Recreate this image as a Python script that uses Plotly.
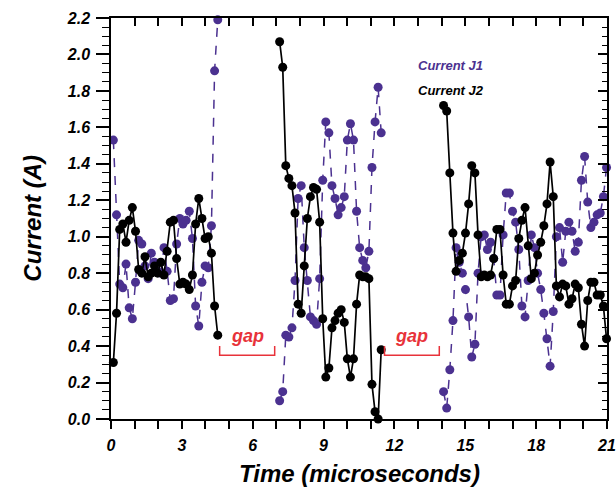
import numpy as np
import plotly.graph_objects as go

# ---------------- data ----------------
# segment 1 (0.10 .. 4.52 us), segment 2 (7.14 .. 11.44 us), segment 3 (14.08 .. 20.98 us)
seg_bounds = [(0.10, 4.52), (7.14, 11.44), (14.08, 20.98)]

j1_seg1 = [1.53, 1.12, 0.74, 0.72, 0.85, 0.61, 0.55, 0.75, 0.98, 0.96, 0.84, 0.77,
           0.91, 0.86, 0.81, 0.80, 0.94, 0.81, 0.65, 0.66, 0.96, 1.10, 1.07, 1.09,
           1.14, 0.99, 0.62, 0.51, 0.75, 0.84, 0.83, 1.06, 1.91, 2.19]
j2_seg1 = [0.31, 0.58, 1.04, 1.07, 0.97, 1.09, 1.16, 1.03, 0.82, 0.80, 0.89, 0.78,
           0.80, 0.84, 0.80, 0.86, 0.79, 0.92, 1.08, 1.09, 0.88, 0.74, 0.75, 0.74,
           0.71, 0.79, 1.07, 1.21, 1.10, 0.99, 1.00, 0.91, 0.62, 0.46]

j1_seg2 = [0.10, 0.15, 0.46, 0.45, 0.50, 0.76, 1.21, 1.28, 0.94, 0.76, 0.56, 0.54,
           0.52, 0.77, 1.31, 1.63, 1.57, 1.28, 1.21, 1.12, 1.16, 1.22, 1.53, 1.62,
           1.53, 1.14, 0.94, 0.87, 0.83, 0.92, 1.38, 1.63, 1.82, 1.57]
j2_seg2 = [2.07, 1.93, 1.39, 1.32, 1.28, 1.13, 0.63, 0.58, 0.84, 1.10, 1.22, 1.27,
           1.26, 1.08, 0.55, 0.23, 0.28, 0.50, 0.54, 0.58, 0.60, 0.53, 0.33, 0.23,
           0.33, 0.63, 0.79, 0.78, 0.78, 0.77, 0.19, 0.04, 0.00, 0.38]

j1_seg3 = [0.15, 0.06, 0.27, 0.54, 0.94, 0.86, 0.80, 0.71, 0.56, 0.34, 0.41, 0.80,
           1.00, 1.01, 0.93, 0.97, 0.88, 0.68, 0.68, 1.01, 1.24, 1.24, 1.14, 1.08,
           0.93, 0.62, 0.56, 0.76, 1.01, 0.94, 0.80, 0.71, 0.58, 0.44, 0.29, 0.59,
           1.00, 1.05, 0.86, 1.03, 1.08, 1.03, 0.92, 0.97, 1.31, 1.44, 1.19, 1.05,
           1.08, 1.12, 1.13, 1.22, 1.38]
j2_seg3 = [1.72, 1.69, 1.35, 1.02, 0.81, 0.87, 0.91, 1.02, 1.18, 1.39, 1.35, 1.01,
           0.78, 0.79, 0.78, 0.79, 0.88, 1.04, 1.04, 0.79, 0.63, 0.63, 0.73, 0.76,
           0.99, 1.09, 1.16, 0.95, 0.77, 0.80, 0.90, 0.97, 1.06, 1.18, 1.41, 1.22,
           0.73, 0.67, 0.74, 0.73, 0.63, 0.66, 0.74, 0.72, 0.52, 0.40, 0.65, 0.75,
           0.75, 0.68, 0.68, 0.62, 0.44]

gap_starts = [4.60, 11.58]
gap_ends = [6.93, 13.90]
gap_label = "gap"

x_ticks = [0, 3, 6, 9, 12, 15, 18, 21]
y_ticks = [0.0, 0.2, 0.4, 0.6, 0.8, 1.0, 1.2, 1.4, 1.6, 1.8, 2.0, 2.2]

# ------------- build series with breaks between segments -------------
def build(segs):
    xs, ys = [], []
    for (t0, t1), vals in zip(seg_bounds, segs):
        t = np.linspace(t0, t1, len(vals))
        xs += list(t) + [None]
        ys += list(vals) + [None]
    return xs[:-1], ys[:-1]

x1, y1 = build([j1_seg1, j1_seg2, j1_seg3])
x2, y2 = build([j2_seg1, j2_seg2, j2_seg3])

PURPLE = "#4b3190"
RED = "#e8323a"
FONT = "Liberation Sans"

fig = go.Figure()
fig.add_trace(go.Scatter(x=x1, y=y1, mode="lines+markers", name="Current J1",
                         line=dict(color=PURPLE, width=1.5, dash="dash"),
                         marker=dict(color=PURPLE, size=9), cliponaxis=False,
                         connectgaps=False))
fig.add_trace(go.Scatter(x=x2, y=y2, mode="lines+markers", name="Current J2",
                         line=dict(color="black", width=1.7),
                         marker=dict(color="black", size=9), cliponaxis=False,
                         connectgaps=False))
# dummy trace to activate the mirrored (top/right) axes
fig.add_trace(go.Scatter(x=[None], y=[None], xaxis="x2", yaxis="y2",
                         showlegend=False, hoverinfo="skip"))

# gap brackets
for s, e in zip(gap_starts, gap_ends):
    fig.add_shape(type="path",
                  path=f"M {s},0.40 L {s},0.35 L {e},0.35 L {e},0.40",
                  line=dict(color=RED, width=1.5), xref="x", yref="y")
    fig.add_annotation(x=(s + e) / 2, y=0.455, text=gap_label, showarrow=False,
                       font=dict(family=FONT, size=18, color=RED,
                                 weight="bold", style="italic"))

# legend text
fig.add_annotation(x=12.9, y=1.94, text="Current J1", showarrow=False, xanchor="left",
                   font=dict(family=FONT, size=13, color=PURPLE, weight="bold", style="italic"))
fig.add_annotation(x=12.9, y=1.80, text="Current J2", showarrow=False, xanchor="left",
                   font=dict(family=FONT, size=13, color="black", weight="bold", style="italic"))

tickfont = dict(family=FONT, size=16, color="black", weight="bold", style="italic")
titlefont = dict(family=FONT, size=24, color="black", weight="bold", style="italic")

# axis titles (placed as paper annotations for precise position)
fig.add_annotation(xref="paper", yref="paper", x=0.5, y=-0.135, yanchor="middle",
                   text="Time (microseconds)", showarrow=False, font=titlefont)
fig.add_annotation(xref="paper", yref="paper", x=-0.159, y=0.5, xanchor="center",
                   yanchor="middle", textangle=-90,
                   text="Current (A)", showarrow=False, font=titlefont)

fig.update_layout(
    width=616, height=489,
    margin=dict(l=111, r=9, t=18, b=70, autoexpand=False),
    paper_bgcolor="white", plot_bgcolor="white",
    showlegend=False,
    xaxis=dict(range=[0, 21], tickvals=x_ticks, ticks="outside", ticklen=8,
               tickwidth=1.5, tickcolor="black", automargin=False,
               minor=dict(dtick=1, tick0=0, ticks="outside", ticklen=8,
                          tickwidth=1.5, tickcolor="black"),
               showline=True, linecolor="black", linewidth=1.5, mirror=True,
               showgrid=False, zeroline=False, tickfont=tickfont,
               ticklabelstandoff=3),
    yaxis=dict(range=[0, 2.2], tickvals=y_ticks, tickformat=".1f", ticks="outside",
               ticklen=13, tickwidth=1.5, tickcolor="black", automargin=False,
               minor=dict(dtick=0.05, tick0=0, ticks="outside", ticklen=7,
                          tickwidth=1, tickcolor="black"),
               showline=True, linecolor="black", linewidth=1.5, mirror=True,
               showgrid=False, zeroline=False, tickfont=tickfont,
               ticklabelstandoff=3),
    xaxis2=dict(range=[0, 21], overlaying="x", side="top", anchor="y",
                dtick=1, tick0=0, ticks="inside", ticklen=8, tickwidth=1.5,
                tickcolor="black", showticklabels=False, showgrid=False,
                zeroline=False, showline=False),
    yaxis2=dict(range=[0, 2.2], overlaying="y", side="right", anchor="x",
                dtick=0.2, tick0=0, ticks="inside", ticklen=9, tickwidth=1.5,
                tickcolor="black", showticklabels=False, showgrid=False,
                zeroline=False, showline=False,
                minor=dict(dtick=0.05, tick0=0, ticks="inside", ticklen=5,
                           tickwidth=1, tickcolor="black")),
)

# remove the browser's default page margin so the figure sits at (0, 0)
fig.write_html("out.html", config={"displayModeBar": False},
               post_script="document.body.style.margin='0px';document.body.style.overflow='hidden';")
